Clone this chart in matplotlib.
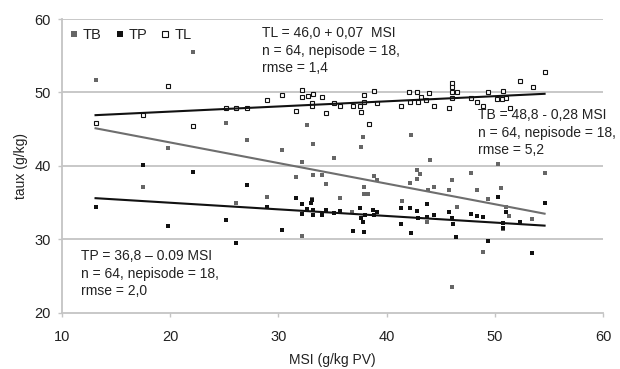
import matplotlib
matplotlib.use("Agg")
import matplotlib.pyplot as plt
import numpy as np

plt.rcParams['font.family'] = ['Liberation Sans', 'DejaVu Sans']

# ---- data ----
tb_x = [13.1, 17.5, 19.8, 22.1, 25.2, 26.1, 27.1, 28.9, 30.3, 31.6, 32.2, 32.2, 32.6,
        33.2, 33.2, 33.1, 34.0, 34.4, 35.1, 35.7, 36.8, 37.6, 37.8, 37.9, 37.9, 38.3,
        38.8, 39.1, 41.4, 42.2, 42.3, 42.8, 42.8, 43.1, 43.7, 43.8, 44.0, 44.4, 45.8,
        46.0, 46.0, 46.5, 47.8, 48.4, 48.9, 49.4, 50.3, 50.6, 50.8, 51.0, 51.3, 53.4, 54.6]
tb_y = [51.7, 37.1, 42.4, 55.5, 45.8, 34.9, 43.6, 35.8, 42.2, 38.5, 40.5, 30.5, 45.6,
        43.0, 38.8, 35.5, 38.8, 37.6, 41.1, 35.6, 33.7, 42.6, 43.9, 37.1, 36.2, 36.2,
        38.6, 38.1, 35.3, 37.7, 44.2, 39.5, 38.2, 38.9, 32.4, 36.8, 40.8, 37.1, 36.7,
        38.1, 23.6, 34.4, 39.0, 36.8, 28.3, 35.5, 40.3, 37.0, 31.4, 34.4, 33.2, 32.8, 39.0]

tp_x = [13.1, 17.5, 19.8, 22.1, 25.2, 26.1, 27.1, 28.9, 30.3, 31.6, 32.2, 32.2, 32.6,
        33.0, 33.1, 33.2, 33.2, 34.0, 34.4, 35.1, 35.7, 36.9, 37.5, 37.6, 37.8, 37.9,
        38.0, 38.7, 38.8, 39.1, 41.3, 41.3, 42.2, 42.3, 42.8, 42.9, 43.7, 43.7, 44.4,
        45.8, 46.0, 46.1, 46.4, 47.8, 48.4, 48.9, 49.4, 50.3, 50.8, 50.8, 51.0, 52.3,
        53.4, 54.6]
tp_y = [34.4, 40.1, 31.8, 39.2, 32.6, 29.5, 37.4, 34.4, 31.3, 35.6, 34.8, 33.5, 34.1,
        34.9, 35.4, 34.0, 33.4, 33.4, 34.0, 33.6, 33.9, 31.1, 34.3, 32.9, 32.4, 31.0,
        33.3, 34.0, 33.3, 33.7, 34.3, 32.1, 34.3, 30.9, 33.9, 32.9, 34.8, 33.0, 33.4,
        33.8, 32.9, 32.1, 30.3, 33.5, 33.2, 33.0, 29.8, 35.8, 32.2, 31.6, 33.7, 32.4,
        28.2, 35.0]

tl_x = [13.1, 17.5, 19.8, 22.1, 25.2, 26.1, 27.1, 28.9, 30.3, 31.6, 32.2, 32.2, 32.7,
        33.2, 33.1, 33.1, 34.0, 34.4, 35.1, 35.7, 36.9, 37.5, 37.6, 37.9, 37.9, 38.8,
        39.1, 38.4, 41.3, 42.1, 42.8, 42.2, 42.9, 43.2, 43.6, 43.9, 44.4, 45.8, 46.0,
        46.0, 46.0, 46.5, 46.0, 47.8, 48.4, 48.9, 49.4, 50.2, 50.7, 51.0, 50.8, 51.4,
        52.3, 53.5, 54.6]
tl_y = [45.8, 46.9, 50.9, 45.5, 47.9, 47.9, 47.9, 49.0, 49.6, 47.5, 50.4, 49.4, 49.5,
        49.8, 48.6, 48.1, 49.4, 47.2, 48.6, 48.1, 48.1, 48.1, 47.4, 49.7, 48.7, 50.2,
        48.6, 45.7, 48.2, 50.0, 50.0, 48.7, 48.7, 49.4, 49.0, 49.9, 48.2, 47.9, 51.3,
        50.7, 50.0, 50.1, 49.2, 49.3, 48.7, 48.1, 50.0, 49.1, 49.1, 49.2, 50.2, 47.9,
        51.5, 50.7, 52.8]

# regression coefficients (intercept, slope)
tb_fit = (48.8, -0.28)
tp_fit = (36.8, -0.09)
tl_fit = (46.0, 0.07)

x_ticks = [10, 20, 30, 40, 50, 60]
y_ticks = [20, 30, 40, 50, 60]

tl_text = "TL = 46,0 + 0,07  MSI\nn = 64, nepisode = 18,\nrmse = 1,4"
tb_text = "TB = 48,8 - 0,28 MSI\nn = 64, nepisode = 18,\nrmse = 5,2"
tp_text = "TP = 36,8 \u2013 0.09 MSI\nn = 64, nepisode = 18,\nrmse = 2,0"

# ---- figure ----
fig = plt.figure(figsize=(6.2, 3.69), dpi=100)
ax = fig.add_axes([0.1, 0.1518, 0.8726, 0.7967])

grid_c = '#c4c4c4'
txt_c = '#222222'
tb_c = '#666666'

ax.plot(tb_x, tb_y, linestyle='none', marker='s', markersize=3.1,
        color=tb_c, markeredgewidth=0, label='TB', zorder=3)
ax.plot(tp_x, tp_y, linestyle='none', marker='s', markersize=3.4,
        color='#111111', markeredgewidth=0, label='TP', zorder=3)
ax.plot(tl_x, tl_y, linestyle='none', marker='s', markersize=3.1,
        markerfacecolor='white', markeredgecolor='#111111', markeredgewidth=0.8,
        label='TL', zorder=4)

def fit_line(xs, fit):
    xx = np.array([min(xs), max(xs)])
    return xx, fit[0] + fit[1] * xx

xx, yy = fit_line(tl_x, tl_fit)
ax.plot(xx, yy, color='#111111', lw=1.5, zorder=5)
xx, yy = fit_line(tb_x, tb_fit)
ax.plot(xx, yy, color='#6e6e6e', lw=1.5, zorder=5)
xx, yy = fit_line(tp_x, tp_fit)
ax.plot(xx, yy, color='#111111', lw=1.5, zorder=5)

ax.set_xlim(10, 60)
ax.set_ylim(20, 60)
ax.set_xticks(x_ticks)
ax.set_yticks(y_ticks)
ax.set_xticklabels([str(v) for v in x_ticks])
ax.set_yticklabels([str(v) for v in y_ticks])

for y in y_ticks[1:]:
    ax.axhline(y, color=grid_c, lw=1.3, zorder=1)

for s in ['top', 'right']:
    ax.spines[s].set_visible(False)
for s in ['left', 'bottom']:
    ax.spines[s].set_color(grid_c)
    ax.spines[s].set_linewidth(1.3)

ax.tick_params(axis='x', direction='out', length=3, width=1.0, color=grid_c,
               labelsize=10.5, labelcolor=txt_c, pad=9)
ax.tick_params(axis='y', direction='out', length=3, width=1.0, color=grid_c,
               labelsize=10.5, labelcolor=txt_c, pad=5)

ax.set_xlabel('MSI (g/kg PV)', fontsize=10, color=txt_c)
ax.xaxis.set_label_coords(0.5, -0.135)
ax.set_ylabel('taux (g/kg)', fontsize=10, color=txt_c)
ax.yaxis.set_label_coords(-0.063, 0.5)

kw = dict(fontsize=10, color=txt_c, va='top', ha='left', linespacing=1.3,
          transform=ax.transAxes, zorder=6)
ax.text(0.370, 0.975, tl_text, **kw)
ax.text(0.769, 0.696, tb_text, **kw)
ax.text(0.035, 0.216, tp_text, **kw)

leg = ax.legend(loc='center left', bbox_to_anchor=(0.014, 0.946), ncol=3,
                frameon=False, fontsize=10.5, handlelength=0.6, handletextpad=0.3,
                columnspacing=0.95, borderaxespad=0, borderpad=0, markerscale=1.2)
for t in leg.get_texts():
    t.set_color(txt_c)

fig.savefig('out.png', dpi=100, facecolor='white')
